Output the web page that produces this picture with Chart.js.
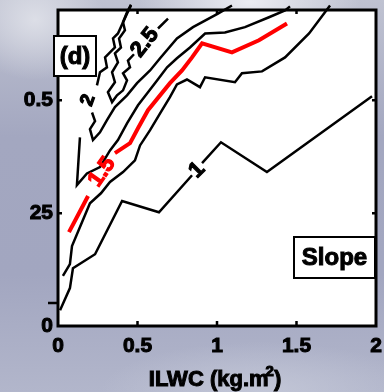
<!DOCTYPE html>
<html>
<head>
<meta charset="utf-8">
<script src="https://cdn.jsdelivr.net/npm/chart.js@4.4.1/dist/chart.umd.min.js"></script>
<style>
  html, body { margin: 0; padding: 0; }
  body {
    width: 384px; height: 392px; overflow: hidden;
    background:
      radial-gradient(ellipse 110px 45px at 250px 2px, rgba(238,239,244,0.95), rgba(238,239,244,0)),
      radial-gradient(ellipse 70px 60px at 35px 20px, rgba(222,224,232,0.95), rgba(222,224,232,0)),
      radial-gradient(ellipse 160px 50px at 260px 392px, rgba(196,200,216,0.9), rgba(196,200,216,0)),
      linear-gradient(180deg, #bfc2d1 0%, #a3a7c0 35%, #a2a6c0 70%, #b2b6cb 100%);
  }
</style>
</head>
<body>
<canvas id="slopeChart" width="384" height="392"></canvas>
<script>
// axis ticks
const xTickVals = [0, 0.5, 1, 1.5, 2];
const xTickLabels = ['0', '0.5', '1', '1.5', '2'];
const yTickVals = [0, 0.25, 0.5];
const yTickLabels = ['0', '25', '0.5'];

// contour "1"
const c1X = [0.013, 0.075, 0.094, 0.233, 0.403, 0.635, 0.843, null, 0.906, 1.025, 1.314, 1.975];
const c1Y = [0.035, 0.084, 0.128, 0.159, 0.277, 0.252, 0.334, null, 0.361, 0.407, 0.341, 0.509];

// black contour just under the red one
const cBX = [0.031, 0.075, 0.088, 0.201, 0.270, 0.327, 0.409, 0.484, 0.516, 0.579, 0.642, 0.704, 0.748, 0.811, 0.893, 0.925, 1.113, 1.157, 1.283, 1.428, 1.579, 1.711];
const cBY = [0.111, 0.137, 0.177, 0.272, 0.294, 0.319, 0.341, 0.367, 0.400, 0.434, 0.471, 0.507, 0.535, 0.546, 0.529, 0.551, 0.540, 0.560, 0.564, 0.595, 0.648, 0.710];

// red contour "1.5"
const c15X = [0.069, 0.126, 0.189, null, 0.358, 0.453, 0.503, 0.566, 0.704, 0.780, 0.843, 0.906, 1.094, 1.264, 1.440];
const c15Y = [0.208, 0.246, 0.288, null, 0.383, 0.405, 0.438, 0.478, 0.538, 0.566, 0.595, 0.626, 0.606, 0.633, 0.670];

// black contour just above the red one
const cCX = [0.138, 0.119, 0.182, 0.264, 0.327, 0.377, 0.434, 0.503, 0.560, 0.623, 0.686, 0.748, 0.830, 0.925, 1.050, 1.176, 1.327, 1.428, 1.459];
const cCY = [0.418, 0.312, 0.338, 0.352, 0.389, 0.412, 0.449, 0.489, 0.515, 0.544, 0.573, 0.593, 0.617, 0.648, 0.650, 0.662, 0.684, 0.699, 0.708];

// contour "2" (jagged left branch, then smooth right branch)
const c2X = [0.459, 0.434, 0.377, 0.346, 0.358, 0.296, 0.308, 0.264, 0.245, null, 0.214, 0.233, 0.201, 0.220, 0.264, 0.308, 0.358, 0.434, 0.497, 0.579, 0.642, 0.748, 0.849, 1.006, 1.094];
const c2Y = [0.710, 0.692, 0.648, 0.637, 0.617, 0.595, 0.573, 0.562, 0.533, null, 0.473, 0.454, 0.436, 0.412, 0.429, 0.456, 0.485, 0.511, 0.538, 0.566, 0.593, 0.637, 0.662, 0.692, 0.710];

// contour "2.5"
const c25X = [0.459, 0.434, 0.409, 0.421, 0.384, 0.396, 0.358, 0.377, 0.340, 0.358, 0.314, 0.340, 0.371, 0.409, 0.434, 0.409, 0.453, 0.440, 0.478, null, 0.629, 0.692];
const c25Y = [0.712, 0.695, 0.673, 0.655, 0.637, 0.617, 0.604, 0.584, 0.562, 0.540, 0.518, 0.496, 0.511, 0.522, 0.544, 0.560, 0.573, 0.588, 0.602, null, 0.659, 0.681];

// contour labels
const labelText = ['1', '1.5', '2', '2.5'];
const labelX = [0.874, 0.277, 0.189, 0.547];
const labelY = [0.345, 0.341, 0.500, 0.628];

function pts(xs, ys) {
  return xs.map((x, i) => ({x: x === null ? NaN : x, y: ys[i] === null ? NaN : ys[i]}));
}

const boldFont = size => ({family: '"Liberation Sans", Arial, sans-serif', size: size, weight: 'bold'});

const decorations = {
  id: 'decorations',
  beforeDraw(chart) {
    const {ctx, chartArea: a} = chart;
    ctx.save();
    ctx.fillStyle = '#fff';
    ctx.fillRect(a.left, a.top, a.right - a.left, a.bottom - a.top);
    ctx.restore();
  },
  afterDatasetsDraw(chart) {
    const {ctx, chartArea: a, scales: {x, y}} = chart;
    ctx.save();
    // frame
    ctx.strokeStyle = '#000';
    ctx.lineWidth = 3;
    ctx.strokeRect(a.left, a.top, a.right - a.left, a.bottom - a.top);
    // inward ticks
    ctx.lineWidth = 2.5;
    ctx.beginPath();
    xTickVals.slice(1, -1).forEach(v => {
      const px = x.getPixelForValue(v);
      ctx.moveTo(px, a.bottom); ctx.lineTo(px, a.bottom - 5);
      ctx.moveTo(px, a.top); ctx.lineTo(px, a.top + 4);
    });
    yTickVals.slice(1).forEach(v => {
      const py = y.getPixelForValue(v);
      ctx.moveTo(a.left, py); ctx.lineTo(a.left + 4, py);
      ctx.moveTo(a.right, py); ctx.lineTo(a.right - 4, py);
    });
    // odd outward tick near the bottom
    const py05 = y.getPixelForValue(0.051);
    ctx.moveTo(a.left - 10, py05); ctx.lineTo(a.left, py05);
    ctx.stroke();

    // contour labels
    const rot = [-45, -55, -70, -52];
    const size = [22, 22, 19, 22];
    labelText.forEach((t, i) => {
      ctx.save();
      ctx.translate(x.getPixelForValue(labelX[i]), y.getPixelForValue(labelY[i]));
      ctx.rotate(rot[i] * Math.PI / 180);
      ctx.font = 'bold ' + size[i] + 'px "Liberation Sans", Arial, sans-serif';
      ctx.textAlign = 'center';
      ctx.textBaseline = 'middle';
      const col = t === '1.5' ? '#f00' : '#000';
      ctx.fillStyle = col; ctx.strokeStyle = col; ctx.lineWidth = 1.2;
      ctx.fillText(t, 0, 0);
      ctx.strokeText(t, 0, 0);
      ctx.restore();
    });

    // panel boxes
    const box = (x0, y0, x1, y1, text, size) => {
      ctx.fillStyle = '#fff';
      ctx.fillRect(x0, y0, x1 - x0, y1 - y0);
      ctx.strokeStyle = '#000'; ctx.lineWidth = 2;
      ctx.strokeRect(x0, y0, x1 - x0, y1 - y0);
      ctx.font = 'bold ' + size + 'px "Liberation Sans", Arial, sans-serif';
      ctx.textAlign = 'center'; ctx.textBaseline = 'middle';
      ctx.fillStyle = '#000'; ctx.lineWidth = 1;
      ctx.fillText(text, (x0 + x1) / 2, (y0 + y1) / 2 + 1);
      ctx.strokeText(text, (x0 + x1) / 2, (y0 + y1) / 2 + 1);
    };
    box(54, 36, 96, 76, '(d)', 24);
    box(294, 237, 375, 278, 'Slope', 24);

    // x title with superscript
    ctx.font = 'bold 22px "Liberation Sans", Arial, sans-serif';
    ctx.textAlign = 'left'; ctx.textBaseline = 'alphabetic';
    const main = 'ILWC (kg.m';
    const wMain = ctx.measureText(main).width;
    ctx.font = 'bold 15px "Liberation Sans", Arial, sans-serif';
    const wSup = ctx.measureText('2').width;
    ctx.font = 'bold 22px "Liberation Sans", Arial, sans-serif';
    const wEnd = ctx.measureText(')').width;
    let tx = 215 - (wMain + wSup + wEnd - 3) / 2;
    const ty = 386;
    ctx.fillStyle = '#000'; ctx.strokeStyle = '#000'; ctx.lineWidth = 1;
    ctx.fillText(main, tx, ty); ctx.strokeText(main, tx, ty);
    ctx.font = 'bold 15px "Liberation Sans", Arial, sans-serif';
    ctx.fillText('2', tx + wMain - 3, ty - 10); ctx.strokeText('2', tx + wMain - 3, ty - 10);
    ctx.font = 'bold 22px "Liberation Sans", Arial, sans-serif';
    ctx.fillText(')', tx + wMain + wSup - 3, ty); ctx.strokeText(')', tx + wMain + wSup - 3, ty);
    ctx.restore();
  }
};

const line = (xs, ys, color, width) => ({
  data: pts(xs, ys),
  showLine: true,
  spanGaps: false,
  borderColor: color,
  borderWidth: width,
  pointRadius: 0,
  tension: 0,
  clip: false
});

new Chart(document.getElementById('slopeChart'), {
  type: 'scatter',
  data: {
    datasets: [
      line(c1X, c1Y, '#000', 2.5),
      line(cBX, cBY, '#000', 2.5),
      line(cCX, cCY, '#000', 2.5),
      line(c2X, c2Y, '#000', 2.5),
      line(c25X, c25Y, '#000', 2.5),
      line(c15X, c15Y, '#f00', 4)
    ]
  },
  options: {
    responsive: false,
    animation: false,
    devicePixelRatio: 1,
    layout: {padding: {top: 10, right: 8, left: 0, bottom: 0}},
    plugins: {legend: {display: false}, tooltip: {enabled: false}},
    scales: {
      x: {
        type: 'linear', min: 0, max: 2,
        afterBuildTicks: s => { s.ticks = xTickVals.map(v => ({value: v})); },
        afterFit: s => { s.height = 66; s.paddingLeft = 0; s.paddingRight = 0; },
        grid: {display: false, drawTicks: false},
        border: {display: false},
        ticks: {
          callback: (v, i) => xTickLabels[i],
          font: boldFont(21), color: '#000', padding: 8,
          textStrokeColor: '#000', textStrokeWidth: 1,
          maxRotation: 0
        }
      },
      y: {
        type: 'linear', min: 0, max: 0.7,
        afterBuildTicks: s => { s.ticks = yTickVals.map(v => ({value: v})); },
        afterFit: s => { s.width = 58; s.paddingTop = 0; s.paddingBottom = 0; },
        grid: {display: false, drawTicks: false},
        border: {display: false},
        ticks: {
          callback: (v, i) => yTickLabels[i],
          font: boldFont(21), color: '#000', padding: 5,
          textStrokeColor: '#000', textStrokeWidth: 1
        }
      }
    }
  },
  plugins: [decorations]
});
</script>
</body>
</html>
